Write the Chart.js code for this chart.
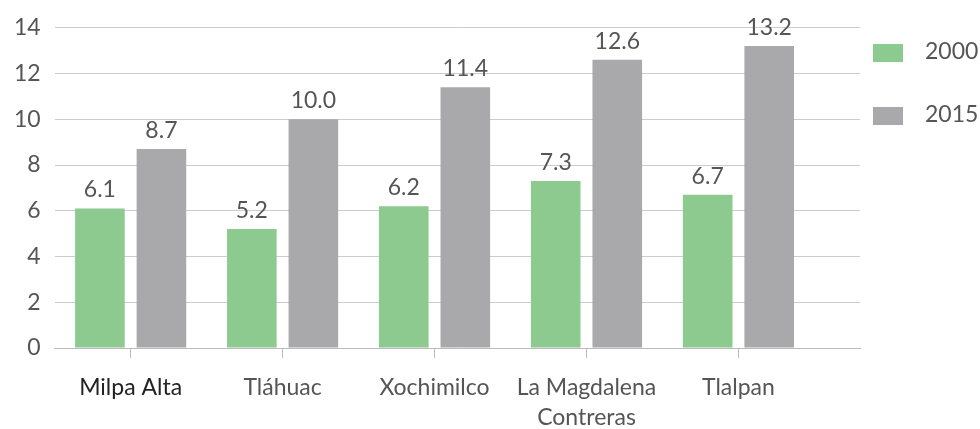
<!DOCTYPE html>
<html>
<head>
<meta charset="utf-8">
<script src="https://cdn.jsdelivr.net/npm/chart.js@4"></script>
<style>
  html, body { margin: 0; padding: 0; background: #fff; }
  #wrap { width: 980px; height: 429px; }
</style>
</head>
<body>
<div id="wrap"><canvas id="barChart"></canvas></div>
<script>
var categories = ['Milpa Alta', 'Tláhuac', 'Xochimilco', ['La Magdalena', 'Contreras'], 'Tlalpan'];
var values2000 = [6.1, 5.2, 6.2, 7.3, 6.7];
var values2015 = [8.7, 10.0, 11.4, 12.6, 13.2];
var yTicks = [0, 2, 4, 6, 8, 10, 12, 14];

var FONT = 'Lato';
var TEXT = '#555555';
var SIZE = 23;

// value labels above each bar
var barLabels = {
    id: 'barLabels',
    afterDatasetsDraw: function(chart) {
        var ctx = chart.ctx;
        ctx.save();
        ctx.font = SIZE + 'px ' + FONT;
        ctx.fillStyle = TEXT;
        ctx.textAlign = 'center';
        ctx.textBaseline = 'bottom';
        chart.data.datasets.forEach(function(ds, i) {
            chart.getDatasetMeta(i).data.forEach(function(bar, j) {
                ctx.fillText(ds.data[j].toFixed(1), bar.x, bar.y - 7);
            });
        });
        ctx.restore();
    }
};

// legend drawn by hand to the right of the plot
var sideLegend = {
    id: 'sideLegend',
    afterDraw: function(chart) {
        var ctx = chart.ctx;
        var x = chart.chartArea.right + 13;
        ctx.save();
        ctx.font = SIZE + 'px ' + FONT;
        ctx.textBaseline = 'middle';
        ctx.textAlign = 'left';
        chart.data.datasets.forEach(function(ds, i) {
            var y = 53 + i * 63;
            ctx.fillStyle = ds.backgroundColor;
            ctx.fillRect(x, y - 9, 30, 18);
            ctx.fillStyle = TEXT;
            ctx.fillText(ds.label, x + 52, y - 1);
        });
        ctx.restore();
    }
};

var ctx = document.getElementById('barChart').getContext('2d');

var myChart = new Chart(ctx, {
    type: 'bar',
    data: {
        labels: categories,
        datasets: [
            {
                label: '2000',
                data: values2000,
                backgroundColor: '#8cca8f'
            },
            {
                label: '2015',
                data: values2015,
                backgroundColor: '#a9a9ab'
            }
        ]
    },
    options: {
        responsive: true,
        maintainAspectRatio: false,
        animation: false,
        layout: {
            padding: { top: 14, right: 120, bottom: 0, left: 0 }
        },
        datasets: {
            bar: { categoryPercentage: 0.81, barPercentage: 0.806 }
        },
        plugins: {
            legend: { display: false },
            tooltip: { enabled: false }
        },
        scales: {
            x: {
                afterBuildTicks: function(s) { s._valueRange = 5.3; },
                afterFit: function(s) { s.height = 81; },
                grid: {
                    display: true,
                    drawOnChartArea: false,
                    offset: false,
                    tickLength: 10,
                    color: '#bbbbbb'
                },
                border: { display: true, color: '#bbbbbb', width: 1 },
                ticks: {
                    padding: 15,
                    maxRotation: 0,
                    autoSkip: false,
                    font: { family: FONT, size: SIZE, lineHeight: 1.3 },
                    color: function(c) { return c.index === 0 ? '#222222' : TEXT; }
                }
            },
            y: {
                min: 0,
                max: 14,
                afterBuildTicks: function(s) { s.ticks = yTicks.map(function(v) { return { value: v }; }); },
                grid: { color: '#cccccc', drawTicks: false },
                border: { display: false },
                ticks: {
                    padding: 14,
                    font: { family: FONT, size: SIZE },
                    color: TEXT
                }
            }
        }
    },
    plugins: [barLabels, sideLegend]
});
</script>
</body>
</html>
